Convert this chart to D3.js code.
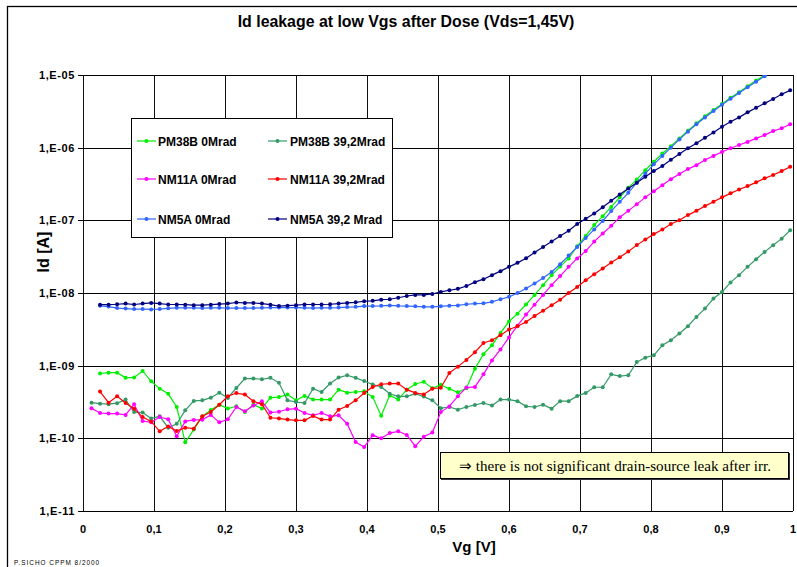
<!DOCTYPE html>
<html>
<head>
<meta charset="utf-8">
<script src="https://cdn.jsdelivr.net/npm/d3@7"></script>
<style>
body { margin: 0; background: #fff; }
svg text { font-family: "Liberation Sans", Arial, sans-serif; }
</style>
</head>
<body>
<svg id="chart" width="797" height="567"></svg>
<script>
// Gate voltage sweep [V]
var vg = [
	0.012, 0.024, 0.036, 0.048, 0.060, 0.072, 0.084, 0.096, 0.108, 0.120,
	0.132, 0.144, 0.156, 0.168, 0.180, 0.192, 0.204, 0.216, 0.228, 0.240,
	0.252, 0.264, 0.276, 0.288, 0.300, 0.312, 0.324, 0.336, 0.348, 0.360,
	0.372, 0.384, 0.396, 0.408, 0.420, 0.432, 0.444, 0.456, 0.468, 0.480,
	0.492, 0.504, 0.516, 0.528, 0.540, 0.552, 0.564, 0.576, 0.588, 0.600,
	0.612, 0.624, 0.636, 0.648, 0.660, 0.672, 0.684, 0.696, 0.708, 0.720,
	0.732, 0.744, 0.756, 0.768, 0.780, 0.792, 0.804, 0.816, 0.828, 0.840,
	0.852, 0.864, 0.876, 0.888, 0.900, 0.912, 0.924, 0.936, 0.948, 0.960,
	0.972, 0.984, 0.996
];

// Id [A] per device, same order as vg (null = not measured / off scale)
var pm38b0 = [
	null, 7.8e-10, 8.0e-10, 8.0e-10, 6.8e-10, 6.9e-10, 8.45e-10, 6.1e-10, 4.83e-10, 4.1e-10,
	2.7e-10, 8.8e-11, 1.32e-10, 2.0e-10, 2.45e-10, 2.9e-10, 2.57e-10, 2.76e-10, 2.3e-10, 2.9e-10,
	2.57e-10, 3.63e-10, 3.7e-10, 4.0e-10, 3.33e-10, 3.83e-10, 3.41e-10, 3.41e-10, 3.41e-10, 4.68e-10,
	4.25e-10, 4.34e-10, 4.44e-10, 3.7e-10, 2.05e-10, 3.9e-10, 3.41e-10, 4.68e-10, 5.6e-10, 6.0e-10,
	4.9e-10, 5.45e-10, 4.8e-10, 4.3e-10, 4.9e-10, 9.1e-10, 1.44e-9, 1.91e-9, 2.82e-9, 4.05e-9,
	5.2e-9, 6.95e-9, 9.4e-9, 1.28e-8, 1.76e-8, 2.31e-8, 2.99e-8, 4.4e-8, 6.1e-8, 8.6e-8,
	1.14e-7, 1.53e-7, 2.07e-7, 2.8e-7, 3.66e-7, 4.9e-7, 6.4e-7, 8.3e-7, 1.05e-6, 1.34e-6,
	1.71e-6, 2.16e-6, 2.7e-6, 3.3e-6, 4.0e-6, 4.85e-6, 5.8e-6, 7.0e-6, 8.4e-6, 9.9e-6,
	1.18e-5, null, null
];
var pm38b39 = [
	3.1e-10, 3.0e-10, 2.95e-10, 3.05e-10, 3.41e-10, 2.3e-10, 2.26e-10, 1.87e-10, 2.01e-10, 1.4e-10,
	1.59e-10, 2.43e-10, 3.27e-10, 3.33e-10, 3.63e-10, 4.25e-10, 3.6e-10, 4.93e-10, 6.64e-10, 6.64e-10,
	6.5e-10, 6.8e-10, 5.8e-10, 3.33e-10, 3.16e-10, 3.06e-10, 4.83e-10, 4.34e-10, 5.67e-10, 6.86e-10,
	7.38e-10, 6.8e-10, 6.16e-10, 5.5e-10, 5.1e-10, 4.1e-10, 3.79e-10, 3.79e-10, 4.1e-10, 3.75e-10,
	3.33e-10, 2.6e-10, 2.7e-10, 2.48e-10, 2.7e-10, 2.88e-10, 3.06e-10, 2.83e-10, 3.41e-10, 3.41e-10,
	3.25e-10, 2.76e-10, 2.7e-10, 2.9e-10, 2.56e-10, 3.25e-10, 3.25e-10, 3.81e-10, 4.22e-10, 5.05e-10,
	5.05e-10, 7.6e-10, 7.2e-10, 7.38e-10, 1.12e-9, 1.29e-9, 1.39e-9, 1.91e-9, 2.24e-9, 2.77e-9,
	3.49e-9, 4.69e-9, 6.1e-9, 8.4e-9, 1.03e-8, 1.4e-8, 1.76e-8, 2.29e-8, 2.92e-8, 3.68e-8,
	4.55e-8, 5.6e-8, 7.3e-8
];
var nm11a0 = [
	2.6e-10, 2.23e-10, 2.19e-10, 2.19e-10, 2.1e-10, 2.94e-10, 1.73e-10, 1.66e-10, 1.96e-10, 1.83e-10,
	1.07e-10, 1.71e-10, 1.79e-10, 1.8e-10, 2.1e-10, 1.66e-10, 1.83e-10, 2.7e-10, 2.35e-10, 2.82e-10,
	3.23e-10, 2.26e-10, 2.32e-10, 2.51e-10, 2.56e-10, 2.23e-10, 2.07e-10, 2.23e-10, 2.01e-10, 2.07e-10,
	1.59e-10, 8.9e-11, 7.6e-11, 1.1e-10, 1.0e-10, 1.18e-10, 1.25e-10, 1.11e-10, 7.8e-11, 1.05e-10,
	1.2e-10, 2.3e-10, 2.75e-10, 3.8e-10, 5.0e-10, 5.1e-10, 7.6e-10, 1.18e-9, 1.67e-9, 2.45e-9,
	3.55e-9, 5.05e-9, 6.9e-9, 9.4e-9, 1.28e-8, 1.71e-8, 2.29e-8, 2.99e-8, 3.77e-8, 5.1e-8,
	6.6e-8, 8.4e-8, 1.1e-7, 1.35e-7, 1.67e-7, 2.07e-7, 2.52e-7, 3.05e-7, 3.69e-7, 4.33e-7,
	5.07e-7, 5.75e-7, 6.75e-7, 7.7e-7, 8.7e-7, 9.8e-7, 1.09e-6, 1.2e-6, 1.34e-6, 1.49e-6,
	1.69e-6, 1.85e-6, 2.1e-6
];
var nm11a39 = [
	null, 4.4e-10, 3.1e-10, 3.79e-10, 3.06e-10, 2.56e-10, 1.96e-10, 1.71e-10, 1.25e-10, 1.46e-10,
	1.26e-10, 1.4e-10, 1.36e-10, 2.01e-10, 2.3e-10, 2.9e-10, 3.79e-10, 4.2e-10, 4.0e-10, 3.23e-10,
	2.94e-10, 1.92e-10, 1.88e-10, 1.81e-10, 1.77e-10, 1.77e-10, 2.03e-10, 1.81e-10, 1.81e-10, 2.48e-10,
	2.79e-10, 3.33e-10, 4.2e-10, 5.1e-10, 5.55e-10, 5.67e-10, 5.67e-10, 4.68e-10, 4.22e-10, 4.02e-10,
	4.83e-10, 4.96e-10, 7.95e-10, 9.7e-10, 1.2e-9, 1.53e-9, 2.05e-9, 2.24e-9, 2.62e-9, 3.14e-9,
	3.49e-9, 4.0e-9, 4.84e-9, 5.7e-9, 6.8e-9, 8.1e-9, 1.0e-8, 1.21e-8, 1.5e-8, 1.81e-8,
	2.17e-8, 2.62e-8, 3.1e-8, 3.72e-8, 4.56e-8, 5.46e-8, 6.46e-8, 7.5e-8, 8.9e-8, 1.0e-7,
	1.18e-7, 1.35e-7, 1.57e-7, 1.8e-7, 2.07e-7, 2.35e-7, 2.66e-7, 2.96e-7, 3.33e-7, 3.78e-7,
	4.2e-7, 4.76e-7, 5.46e-7
];
var nm5a0 = [
	null, 6.65e-9, 6.5e-9, 6.2e-9, 6.1e-9, 6.0e-9, 6.0e-9, 5.95e-9, 6.0e-9, 6.15e-9,
	6.25e-9, 6.25e-9, 6.25e-9, 6.2e-9, 6.25e-9, 6.25e-9, 6.2e-9, 6.2e-9, 6.2e-9, 6.2e-9,
	6.25e-9, 6.3e-9, 6.3e-9, 6.3e-9, 6.3e-9, 6.25e-9, 6.2e-9, 6.25e-9, 6.25e-9, 6.3e-9,
	6.4e-9, 6.45e-9, 6.6e-9, 6.6e-9, 6.65e-9, 6.75e-9, 6.65e-9, 6.6e-9, 6.55e-9, 6.45e-9,
	6.45e-9, 6.55e-9, 6.7e-9, 6.75e-9, 7.0e-9, 7.15e-9, 7.2e-9, 7.55e-9, 8.2e-9, 8.85e-9,
	1.0e-8, 1.15e-8, 1.35e-8, 1.61e-8, 1.95e-8, 2.49e-8, 3.27e-8, 4.3e-8, 5.7e-8, 7.5e-8,
	9.8e-8, 1.34e-7, 1.8e-7, 2.39e-7, 3.3e-7, 4.4e-7, 5.9e-7, 7.7e-7, 1.0e-6, 1.3e-6,
	1.66e-6, 2.1e-6, 2.6e-6, 3.2e-6, 3.9e-6, 4.7e-6, 5.65e-6, 6.8e-6, 8.1e-6, 9.6e-6,
	1.14e-5, null, null
];
var nm5a39 = [
	null, 6.9e-9, 6.9e-9, 7.0e-9, 7.15e-9, 6.95e-9, 7.15e-9, 7.3e-9, 7.15e-9, 6.95e-9,
	6.95e-9, 6.9e-9, 6.8e-9, 6.8e-9, 6.9e-9, 7.05e-9, 7.15e-9, 7.4e-9, 7.3e-9, 7.3e-9,
	7.15e-9, 6.9e-9, 6.6e-9, 6.7e-9, 6.8e-9, 6.95e-9, 6.95e-9, 6.95e-9, 7.0e-9, 7.15e-9,
	7.3e-9, 7.45e-9, 7.7e-9, 7.8e-9, 8.1e-9, 8.2e-9, 8.6e-9, 9.1e-9, 9.4e-9, 9.4e-9,
	9.7e-9, 1.035e-8, 1.09e-8, 1.14e-8, 1.25e-8, 1.41e-8, 1.55e-8, 1.76e-8, 2.0e-8, 2.29e-8,
	2.6e-8, 3.0e-8, 3.6e-8, 4.3e-8, 5.1e-8, 6.1e-8, 7.2e-8, 8.9e-8, 1.05e-7, 1.24e-7,
	1.51e-7, 1.86e-7, 2.27e-7, 2.75e-7, 3.29e-7, 3.98e-7, 4.76e-7, 5.6e-7, 6.8e-7, 8.2e-7,
	9.8e-7, 1.15e-6, 1.37e-6, 1.62e-6, 1.94e-6, 2.27e-6, 2.61e-6, 3.06e-6, 3.55e-6, 4.07e-6,
	4.67e-6, 5.42e-6, 6.15e-6
];

var xTicks = [0, 0.1, 0.2, 0.3, 0.4, 0.5, 0.6, 0.7, 0.8, 0.9, 1];
var xTickLabels = ['0', '0,1', '0,2', '0,3', '0,4', '0,5', '0,6', '0,7', '0,8', '0,9', '1'];
var yTicks = [1e-11, 1e-10, 1e-9, 1e-8, 1e-7, 1e-6, 1e-5];
var yTickLabels = ['1,E-11', '1,E-10', '1,E-09', '1,E-08', '1,E-07', '1,E-06', '1,E-05'];

var series = [
	{name: 'PM38B 0Mrad',     values: pm38b0,  color: '#00ee00', col: 0, row: 0},
	{name: 'PM38B 39,2Mrad',  values: pm38b39, color: '#339966', col: 1, row: 0},
	{name: 'NM11A 0Mrad',     values: nm11a0,  color: '#ff00ff', col: 0, row: 1},
	{name: 'NM11A 39,2Mrad',  values: nm11a39, color: '#ff0000', col: 1, row: 1},
	{name: 'NM5A 0Mrad',      values: nm5a0,   color: '#3366ff', col: 0, row: 2},
	{name: 'NM5A 39,2 Mrad',  values: nm5a39,  color: '#000080', col: 1, row: 2}
];

var plot = {left: 83, right: 793, top: 75, bottom: 511};

var svg = d3.select('#chart');

var x = d3.scaleLinear().domain([0, 1]).range([plot.left, plot.right]);
var y = d3.scaleLog().domain([1e-11, 1e-5]).range([plot.bottom, plot.top]);

// outer chart frame
svg.append('rect')
	.attr('x', 7.5).attr('y', 6.5)
	.attr('width', 820).attr('height', 620)
	.attr('fill', '#fff').attr('stroke', '#000').attr('stroke-width', 1.3);

function fitText(sel, width) {
	var fs = parseFloat(sel.style('font-size'));
	var w = sel.node().getComputedTextLength();
	sel.style('font-size', (fs * width / w) + 'px');
}

// title
var title = svg.append('text')
	.attr('x', 406).attr('y', 27)
	.attr('text-anchor', 'middle')
	.style('font-size', '16px').style('font-weight', 'bold')
	.text('Id leakage at low Vgs after Dose (Vds=1,45V)');
fitText(title, 337);

// grid
var grid = svg.append('g').attr('shape-rendering', 'crispEdges');
grid.selectAll('.hgrid').data(yTicks).enter().append('line')
	.attr('x1', plot.left - 5).attr('x2', plot.right)
	.attr('y1', function(d) { return Math.round(y(d)) + 0.5; })
	.attr('y2', function(d) { return Math.round(y(d)) + 0.5; })
	.attr('stroke', '#000');
grid.selectAll('.vgrid').data(xTicks).enter().append('line')
	.attr('x1', function(d) { return Math.round(x(d)) + 0.5; })
	.attr('x2', function(d) { return Math.round(x(d)) + 0.5; })
	.attr('y1', plot.top).attr('y2', plot.bottom)
	.attr('stroke', '#111');

// axis labels
svg.selectAll('.ylab').data(yTicks).enter().append('text')
	.attr('x', 75).attr('y', function(d) { return y(d) + 4; })
	.attr('text-anchor', 'end')
	.style('font-size', '11px').style('font-weight', 'bold').style('letter-spacing', '0.6px')
	.text(function(d, i) { return yTickLabels[i]; });

svg.selectAll('.xlab').data(xTicks).enter().append('text')
	.attr('x', function(d) { return x(d); }).attr('y', 533)
	.attr('text-anchor', 'middle')
	.style('font-size', '11px').style('font-weight', 'bold')
	.text(function(d, i) { return xTickLabels[i]; });

svg.append('text')
	.attr('x', 474).attr('y', 552)
	.attr('text-anchor', 'middle')
	.style('font-size', '15px').style('font-weight', 'bold')
	.text('Vg [V]');

svg.append('text')
	.attr('transform', 'translate(49,252) rotate(-90)')
	.attr('text-anchor', 'middle')
	.style('font-size', '16px').style('font-weight', 'bold')
	.text('Id [A]');

// series
svg.append('clipPath').attr('id', 'plotclip')
	.append('rect')
	.attr('x', plot.left).attr('y', plot.top)
	.attr('width', plot.right - plot.left + 1).attr('height', plot.bottom - plot.top);

var line = d3.line()
	.defined(function(d) { return d[1] != null; })
	.x(function(d) { return x(d[0]); })
	.y(function(d) { return y(d[1]); });

var lines = svg.append('g').attr('clip-path', 'url(#plotclip)');

series.forEach(function(s) {
	var pts = vg.map(function(v, i) { return [v, s.values[i]]; });
	var g = lines.append('g');
	g.append('path')
		.attr('d', line(pts))
		.attr('fill', 'none')
		.attr('stroke', s.color)
		.attr('stroke-width', 1.2);
	g.selectAll('circle').data(pts.filter(function(d) { return d[1] != null; }))
		.enter().append('circle')
		.attr('cx', function(d) { return x(d[0]); })
		.attr('cy', function(d) { return y(d[1]); })
		.attr('r', 2)
		.attr('fill', s.color);
});

// legend
var legend = svg.append('g');
legend.append('rect')
	.attr('x', 131.5).attr('y', 118.5)
	.attr('width', 261).attr('height', 119)
	.attr('fill', '#fff').attr('stroke', '#000');

var legCols = [{lx: 137, tx: 158}, {lx: 268, tx: 290}];
var legRows = [141, 179, 219];
series.forEach(function(s) {
	var c = legCols[s.col], ry = legRows[s.row];
	legend.append('line')
		.attr('x1', c.lx).attr('x2', c.lx + 19)
		.attr('y1', ry).attr('y2', ry)
		.attr('stroke', s.color).attr('stroke-width', 1.2);
	legend.append('circle')
		.attr('cx', c.lx + 9.5).attr('cy', ry).attr('r', 2)
		.attr('fill', s.color);
	legend.append('text')
		.attr('x', c.tx).attr('y', ry + 4.5)
		.style('font-size', '12px').style('font-weight', 'bold')
		.text(s.name);
});

// note box
svg.append('rect')
	.attr('x', 441).attr('y', 453)
	.attr('width', 349).attr('height', 27)
	.attr('fill', '#333');
svg.append('rect')
	.attr('x', 440.5).attr('y', 452.5)
	.attr('width', 348).attr('height', 26)
	.attr('fill', '#ffffcc').attr('stroke', '#000');
var note = svg.append('text')
	.attr('x', 615).attr('y', 471)
	.attr('text-anchor', 'middle')
	.style('font-family', '"Liberation Serif", "Times New Roman", serif')
	.style('font-size', '14px')
	.text('\u21d2 there is not significant drain-source leak after irr.');
fitText(note, 312);

// footer
var footer = svg.append('text')
	.attr('x', 14).attr('y', 565)
	.style('font-size', '6.5px').style('letter-spacing', '1px')
	.text('P.SICHO CPPM 8/2000');
fitText(footer, 86);
</script>
</body>
</html>
